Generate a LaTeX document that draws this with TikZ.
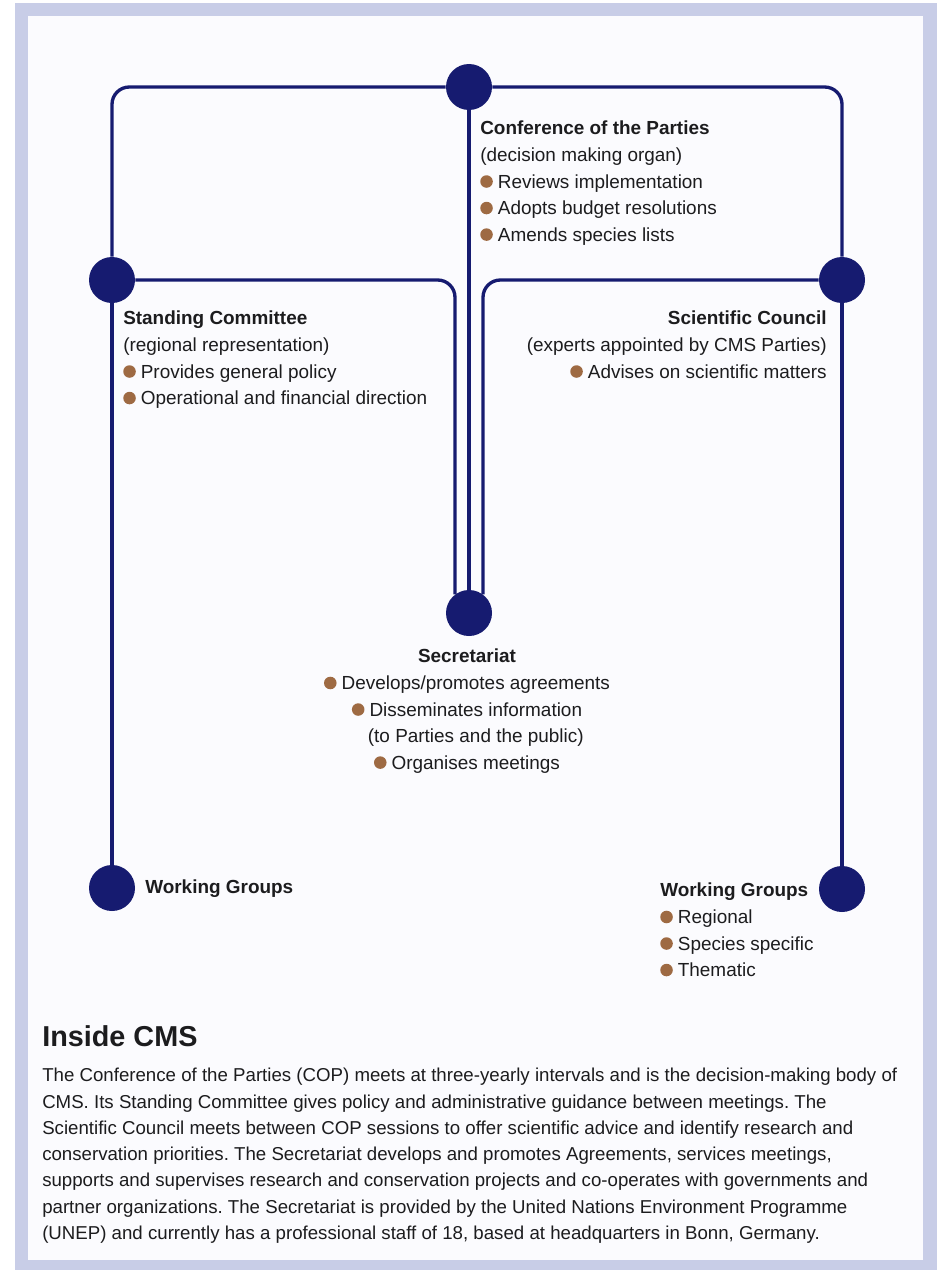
\documentclass[tikz,border=0pt]{standalone}
\usepackage{fontspec}
\setmainfont{Liberation Sans}
\usepackage{tikz}
\usetikzlibrary{calc}
\definecolor{cmsnavy}{RGB}{22,27,112}
\definecolor{cmsbrown}{RGB}{158,106,67}
\definecolor{cmsband}{RGB}{200,205,231}
\definecolor{cmspaper}{RGB}{251,251,254}
\definecolor{cmsink}{RGB}{28,28,30}
\newcommand\bul{{\color{cmsbrown}\tikz[baseline=-4.9pt]\fill (0,0) circle (4.7pt);}\hspace{3.8pt}}
\frenchspacing
\tikzset{
  organ/.style={circle, fill=cmsnavy, inner sep=0pt, minimum size=34.5pt},
  link/.style={line width=2.5pt, color=cmsnavy, rounded corners=13pt},
  txt/.style={inner sep=0pt, text=cmsink, font=\fontsize{14.2}{19.9}\selectfont}
}

\begin{document}
\begin{tikzpicture}[x=0.75pt, y=-0.75pt]
			%%%%% START %%%%%
			\useasboundingbox (0, 0) rectangle (939, 1270);
			\fill[cmsband] (15, 3) rectangle (937, 1270);
			\fill[cmspaper] (28, 16) rectangle (923, 1260);
			
			\node[organ] (cop) at (469, 87) {};
			\node[organ] (stc) at (112, 280) {};
			\node[organ] (scc) at (842, 280) {};
			\node[organ] (sec) at (469, 613) {};
			\node[organ] (wgl) at (112, 888) {};
			\node[organ] (wgr) at (842, 889) {};
			
			\draw[link] (cop) -| (stc);
			\draw[link] (cop) -| (scc);
			\draw[link] (stc) -- (wgl);
			\draw[link] (scc) -- (wgr);
			\draw[link] (cop) -- (sec);
			\draw[link] (stc) -| (sec.127);
			\draw[link] (scc) -| (sec.53);
			
			\node[txt, anchor=north west, align=left] (coptxt) at (480, 121) {\textbf{Conference of the Parties}\\(decision making organ)\\\bul Reviews implementation\\\bul Adopts budget resolutions\\\bul Amends species lists};
			\node[txt, anchor=north west, align=left] (stctxt) at (123, 311) {\textbf{Standing Committee}\\(regional representation)\\\bul Provides general policy\\\bul Operational and financial direction};
			\node[txt, anchor=north east, align=right] (scctxt) at (827, 311) {\textbf{Scientific Council}\\(experts appointed by CMS Parties)\\\bul Advises on scientific matters};
			\node[txt, anchor=north, align=center] (sectxt) at (467, 649) {\textbf{Secretariat}\\\bul Develops/promotes agreements\\\bul Disseminates information\\\hphantom{\bul}(to Parties and the public)\\\bul Organises meetings};
			\node[txt, anchor=west] (wgltxt) at (145, 889) {\textbf{Working Groups}};
			\node[txt, anchor=north west, align=left] (wgrtxt) at (660, 883) {\textbf{Working Groups}\\\bul Regional\\\bul Species specific\\\bul Thematic};
			
			\node[inner sep=0pt, text=cmsink, anchor=base west, font=\fontsize{21.6}{25}\selectfont\bfseries] (title) at (42, 1046) {Inside CMS};
			\node[inner sep=0pt, text=cmsink, anchor=north west, align=left, font=\fontsize{14}{19.7}\selectfont] (body) at (42, 1068) {The Conference of the Parties (COP) meets at three-yearly intervals and is the decision-making body of\\CMS. Its Standing Committee gives policy and administrative guidance between meetings. The\\Scientific Council meets between COP sessions to offer scientific advice and identify research and\\conservation priorities. The Secretariat develops and promotes Agreements, services meetings,\\supports and supervises research and conservation projects and co-operates with governments and\\partner organizations. The Secretariat is provided by the United Nations Environment Programme\\(UNEP) and currently has a professional staff of 18, based at headquarters in Bonn, Germany.};
			%%%%% END %%%%%
		\end{tikzpicture}
\end{document}
